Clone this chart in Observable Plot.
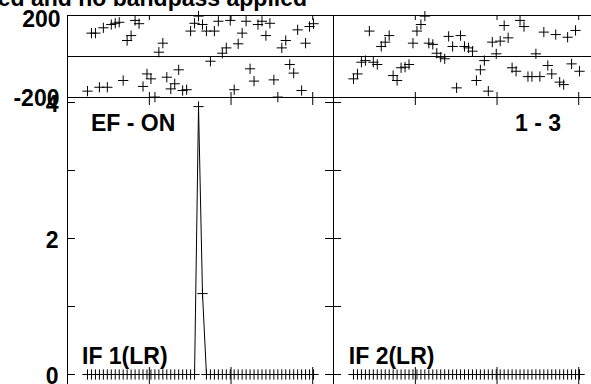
<!DOCTYPE html>
<html>
<head>
<meta charset="utf-8">
<script src="https://cdn.jsdelivr.net/npm/d3@7"></script>
<script src="https://cdn.jsdelivr.net/npm/@observablehq/plot@0.6"></script>
<style>
  html, body { margin: 0; padding: 0; background: #fff; overflow: hidden; }
  #chart { position: relative; width: 591px; height: 384px; overflow: hidden;
           font-family: "Liberation Sans", Arial, sans-serif; }
  #chart svg { position: absolute; overflow: visible; }
  #title { position: absolute; right: 284px; top: -13px; white-space: nowrap;
           font-size: 23px; line-height: 23px; font-weight: bold; color: #000; }
</style>
</head>
<body>
<div id="chart"><div id="title"></div></div>
<script>
// ---- data ----
const titleText = "ed and no bandpass applied";
const channels = [1,2,3,4,5,6,7,8,9,10,11,12,13,14,15,16,17,18,19,20,21,22,23,24,25,26,27,28,29,30,
  31,32,33,34,35,36,37,38,39,40,41,42,43,44,45,46,47,48,49,50,51,52,53,54,55,56,57,58];
const phaseIF1 = [-169,114,114,-150,140,-150,156,162,167,-117,78,102,176,160,-146,-85,-109,-198,21,65,
  -101,-158,-133,-65,-166,-162,124,162,197,156,124,-23,124,172,16,42,176,-162,62,114,
  172,-60,-120,156,172,102,162,-114,-198,42,78,-39,-81,130,-166,65,146,160];
const phaseIF2 = [-109,-85,-28,-20,124,-28,-39,49,70,102,-93,-117,-55,-52,-39,65,124,156,197,65,
  59,16,-3,-11,98,49,-153,102,49,42,26,-117,-65,-20,-169,70,13,75,151,91,
  -55,-72,176,146,-98,-98,13,-98,119,-44,-85,107,-125,-137,94,-36,127,-72];
const ampIF1 = [0,0,0,0,0,0,0,0,0,0,0,0,0,0,0,0,0,0,0,0,0,0,0,0,0,0,0,0,3.94,1.19,
  0,0,0,0,0,0,0,0,0,0,0,0,0,0,0,0,0,0,0,0,0,0,0,0,0,0,0,0];
const ampIF2 = [0,0,0,0,0,0,0,0,0,0,0,0,0,0,0,0,0,0,0,0,0,0,0,0,0,0,0,0,0,0,
  0,0,0,0,0,0,0,0,0,0,0,0,0,0,0,0,0,0,0,0,0,0,0,0,0,0,0,0];
const ifLabels = ["IF 1(LR)", "IF 2(LR)"];
const baselineLabels = ["EF - ON", "1 - 3"];
const xTicks = [16.6, 37.2, 57.8];
const phaseTickLabels = [200, -200];
const ampTicks = [0, 1, 2, 3, 4];
const ampTickLabels = [0, 2, 4];

// ---- layout ----
const xDomain = [-4.044, 63.04];
const panelW = 266;
const markR = 3.4;
const font = {fontFamily: "Liberation Sans, Arial, sans-serif", fontWeight: "bold", fontSize: 23};
const chart = document.getElementById("chart");
document.getElementById("title").textContent = titleText;

const series = [
  {phase: phaseIF1, amp: ampIF1},
  {phase: phaseIF2, amp: ampIF2}
];

function place(svg, left, top) {
  svg.style.left = left + "px";
  svg.style.top = top + "px";
  chart.appendChild(svg);
}

series.forEach((s, i) => {
  const ml = i === 0 ? 67 : 0;
  const left = i === 0 ? 0 : 333;
  const rows = channels.map((c, k) => ({ch: c, phase: s.phase[k], amp: s.amp[k]}));

  // phase panel
  const phH = 82;
  const phase = Plot.plot({
    width: ml + panelW, height: 97,
    marginTop: 15, marginBottom: 0, marginLeft: ml, marginRight: 0,
    x: {domain: xDomain, axis: null},
    y: {domain: [-200, 200], axis: null},
    style: {background: "transparent", overflow: "visible", color: "black"},
    marks: [
      Plot.ruleY([0], {stroke: "black"}),
      Plot.dot(rows, {x: "ch", y: "phase", symbol: "plus", r: markR, stroke: "black", strokeWidth: 1}),
      Plot.tickX(xTicks, {x: d => d, insetBottom: phH - 5, stroke: "black"}),
      Plot.tickX(xTicks, {x: d => d, insetTop: phH - 5, stroke: "black"}),
      Plot.frame({stroke: "black"}),
      ...(i === 0 ? [
        Plot.text(phaseTickLabels.filter(d => d > 0), {y: d => d, text: d => String(d), frameAnchor: "left",
          textAnchor: "end", dx: -7, dy: 4.5, fill: "black", ...font}),
        Plot.text(phaseTickLabels.filter(d => d < 0), {y: d => d, text: d => String(d), frameAnchor: "left",
          textAnchor: "end", dx: -8, dy: 1, fill: "black", ...font})
      ] : [])
    ]
  });
  place(phase, left, 0);

  // amplitude panel
  const amH = 297;
  const amp = Plot.plot({
    width: ml + panelW, height: amH,
    marginTop: 0, marginBottom: 0, marginLeft: ml, marginRight: 0,
    x: {domain: xDomain, axis: null},
    y: {domain: [-0.294, 4.074], axis: null},
    style: {background: "transparent", overflow: "visible", color: "black"},
    marks: [
      Plot.line(rows, {x: "ch", y: "amp", stroke: "black", strokeWidth: 1}),
      Plot.dot(rows, {x: "ch", y: "amp", symbol: "plus", r: markR, stroke: "black", strokeWidth: 1}),
      Plot.tickY(ampTicks, {y: d => d, insetRight: panelW - 8, stroke: "black"}),
      Plot.tickY(ampTicks, {y: d => d, insetLeft: panelW - 8, stroke: "black"}),
      Plot.tickX(xTicks, {x: d => d, insetBottom: amH - 8, stroke: "black"}),
      Plot.tickX(xTicks, {x: d => d, insetTop: 270, stroke: "black"}),
      Plot.frame({stroke: "black"}),
      Plot.text([baselineLabels[i]], {
        text: d => d,
        frameAnchor: i === 0 ? "top-left" : "top-right",
        textAnchor: i === 0 ? "start" : "end",
        lineAnchor: "bottom",
        dx: i === 0 ? 23.5 : -38.5, dy: 33.5, fill: "black", ...font
      }),
      Plot.text([ifLabels[i]], {
        text: d => d, frameAnchor: "top-left", textAnchor: "start", lineAnchor: "bottom",
        dx: i === 0 ? 14.5 : 15.3, dy: 266.5, fill: "black", ...font
      }),
      ...(i === 0 ? [
        Plot.text(ampTickLabels, {y: d => d, text: d => String(d), frameAnchor: "left",
          textAnchor: "end", dx: -9, dy: 2, fill: "black", ...font})
      ] : [])
    ]
  });
  place(amp, left, 97);
});
</script>
</body>
</html>
